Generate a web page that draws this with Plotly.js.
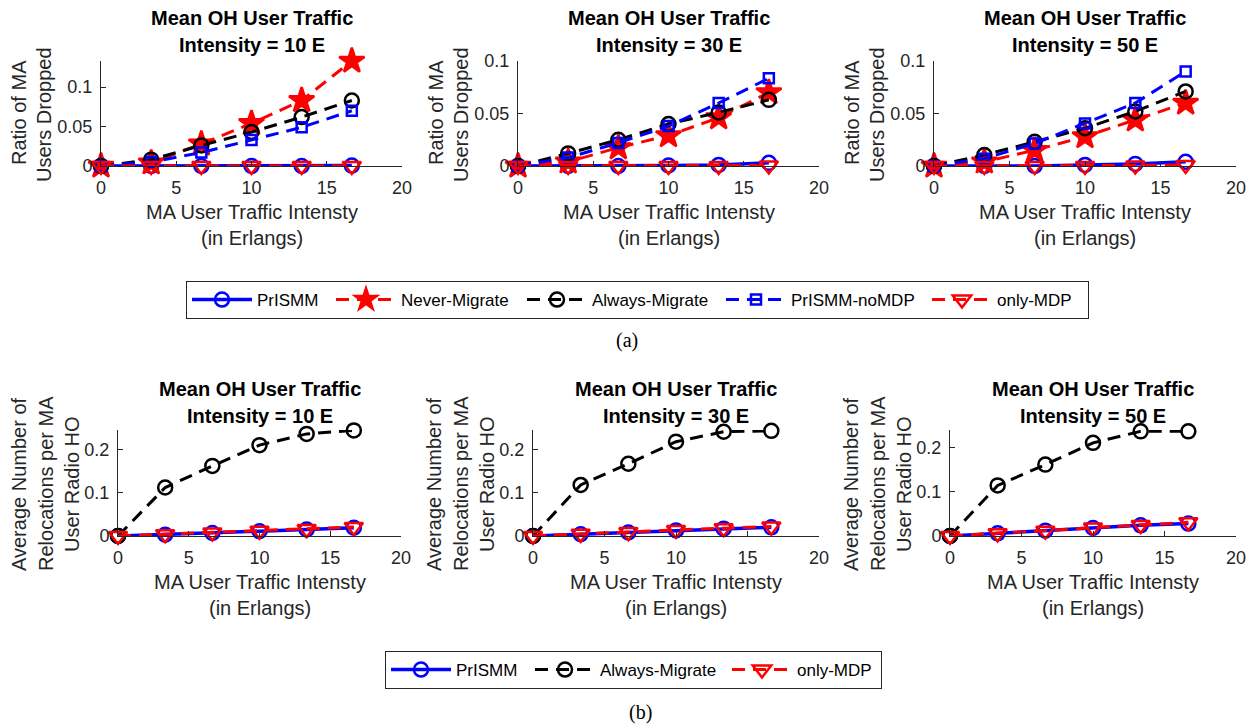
<!DOCTYPE html>
<html><head><meta charset="utf-8">
<script src="https://cdn.plot.ly/plotly-3.0.1.min.js"></script>
<style>html,body{margin:0;padding:0;background:#fff;}</style>
</head><body>
<div id="chart" style="width:1249px;height:728px;"></div>
<script>
// ---------- data ----------
const xVals = [0, 3.333, 6.667, 10, 13.333, 16.667];
const panelIntensity = ['Intensity = 10 E', 'Intensity = 30 E', 'Intensity = 50 E'];
const seriesNamesA = ['PrISMM', 'Never-Migrate', 'Always-Migrate', 'PrISMM-noMDP', 'only-MDP'];
const seriesNamesB = ['PrISMM', 'Always-Migrate', 'only-MDP'];
const xTicks = [0, 5, 10, 15, 20];

// (a) Ratio of MA users dropped
const dropPrISMM_10 = [0, 0, 0, 0, 0, 0.0005];
const dropNever_10  = [0, 0.004, 0.028, 0.054, 0.083, 0.133];
const dropAlways_10 = [0, 0.008, 0.026, 0.043, 0.062, 0.083];
const dropNoMDP_10  = [0, 0.005, 0.017, 0.033, 0.049, 0.070];
const dropOnly_10   = [0, 0, 0, 0, 0, 0];

const dropPrISMM_30 = [0, 0, 0, 0.0005, 0.001, 0.003];
const dropNever_30  = [0, 0.004, 0.0175, 0.029, 0.046, 0.070];
const dropAlways_30 = [0, 0.012, 0.025, 0.040, 0.051, 0.063];
const dropNoMDP_30  = [0, 0.008, 0.022, 0.038, 0.060, 0.0835];
const dropOnly_30   = [0, 0, 0, 0, 0, 0.0005];

const dropPrISMM_50 = [0, 0, 0, 0.001, 0.002, 0.004];
const dropNever_50  = [0, 0.004, 0.015, 0.028, 0.044, 0.060];
const dropAlways_50 = [0, 0.0105, 0.023, 0.036, 0.052, 0.071];
const dropNoMDP_50  = [0, 0.007, 0.0215, 0.0405, 0.060, 0.090];
const dropOnly_50   = [0, 0, 0, 0, 0.0005, 0.001];

// (b) Average number of relocations per MA user radio HO
const relocPrISMM_10 = [0, 0.003, 0.007, 0.011, 0.015, 0.019];
const relocAlways_10 = [0, 0.112, 0.162, 0.210, 0.236, 0.244];
const relocOnly_10   = [0, 0.004, 0.008, 0.012, 0.016, 0.021];

const relocPrISMM_30 = [0, 0.004, 0.008, 0.013, 0.017, 0.020];
const relocAlways_30 = [0, 0.118, 0.167, 0.218, 0.241, 0.243];
const relocOnly_30   = [0, 0.005, 0.009, 0.014, 0.018, 0.022];

const relocPrISMM_50 = [0, 0.006, 0.012, 0.018, 0.024, 0.028];
const relocAlways_50 = [0, 0.114, 0.161, 0.210, 0.236, 0.236];
const relocOnly_50   = [0, 0.006, 0.012, 0.019, 0.025, 0.031];

// ---------- styling ----------
const W = 1249, H = 728;
const px = v => v / W;
const py = v => 1 - v / H;
const DASH = '13px,8px';
const styles = {
  'PrISMM':         {color: '#0000ff', dash: 'solid', symbol: 'circle-open', size: 14},
  'Never-Migrate':  {color: '#ff0000', dash: DASH, symbol: 'star', size: 19},
  'Always-Migrate': {color: '#000000', dash: DASH, symbol: 'circle-open', size: 14},
  'PrISMM-noMDP':   {color: '#0000ff', dash: DASH, symbol: 'square-open', size: 10},
  'only-MDP':       {color: '#ff0000', dash: DASH, symbol: 'triangle-down-open', size: 16}
};
const legWidthA = {'PrISMM': 69, 'Never-Migrate': 116, 'Always-Migrate': 124, 'PrISMM-noMDP': 131, 'only-MDP': 86};
const legWidthB = {'PrISMM': 69, 'Always-Migrate': 122, 'only-MDP': 79};

const panelsA = [
  [dropPrISMM_10, dropNever_10, dropAlways_10, dropNoMDP_10, dropOnly_10],
  [dropPrISMM_30, dropNever_30, dropAlways_30, dropNoMDP_30, dropOnly_30],
  [dropPrISMM_50, dropNever_50, dropAlways_50, dropNoMDP_50, dropOnly_50]
];
const panelsB = [
  [relocPrISMM_10, relocAlways_10, relocOnly_10],
  [relocPrISMM_30, relocAlways_30, relocOnly_30],
  [relocPrISMM_50, relocAlways_50, relocOnly_50]
];

// pixel geometry of the six axes
const topX = [[101, 402], [518, 819], [934, 1236]];
const topY = [61, 166];
const botX = [[118, 401], [533, 819], [950, 1236]];
const botY = [430, 536];
const yRangesA = [0.133, 0.1, 0.1];
const yRangesB = [0.245, 0.245, 0.239];

const traces = [];
function mkTrace(name, y, axIdx, legendId, show, lw) {
  const s = styles[name];
  return {
    type: 'scatter', mode: 'lines+markers', name: name, x: xVals, y: y,
    xaxis: 'x' + (axIdx === 1 ? '' : axIdx), yaxis: 'y' + (axIdx === 1 ? '' : axIdx),
    line: {color: s.color, width: name === 'PrISMM' ? 3.5 : 3, dash: s.dash},
    marker: {symbol: s.symbol, size: s.size, color: s.color, line: {color: s.color, width: 2.5}},
    cliponaxis: false, showlegend: show, legend: legendId, legendwidth: lw
  };
}
panelsA.forEach((ser, p) => {
  ser.forEach((y, k) => {
    const n = seriesNamesA[k];
    traces.push(mkTrace(n, y, p + 1, 'legend', p === 0, legWidthA[n]));
  });
});
panelsB.forEach((ser, p) => {
  ser.forEach((y, k) => {
    const n = seriesNamesB[k];
    traces.push(mkTrace(n, y, p + 4, 'legend2', p === 0, legWidthB[n]));
  });
});

const layout = {
  width: W, height: H, margin: {l: 0, r: 0, t: 0, b: 0},
  paper_bgcolor: '#fff', plot_bgcolor: '#fff',
  font: {family: 'Liberation Sans, Arial, sans-serif', color: '#262626', size: 18},
  annotations: [],
  legend: {orientation: 'h', x: px(186), y: py(281), xanchor: 'left', yanchor: 'top',
           bgcolor: '#fff', bordercolor: '#262626', borderwidth: 1, itemwidth: 60,
           font: {size: 17, color: '#000'}},
  legend2: {orientation: 'h', x: px(385), y: py(651), xanchor: 'left', yanchor: 'top',
           bgcolor: '#fff', bordercolor: '#262626', borderwidth: 1, itemwidth: 60,
           font: {size: 17, color: '#000'}}
};

function axisPair(idx, xr, yr, yMax, dtickY) {
  const sfx = idx === 1 ? '' : idx;
  layout['xaxis' + sfx] = {
    domain: [px(xr[0]), px(xr[1])], range: [0, 20], tickvals: xTicks, anchor: 'y' + sfx,
    showline: true, linecolor: '#262626', linewidth: 1, ticks: 'inside', ticklen: 5,
    tickcolor: '#262626', showgrid: false, zeroline: false, fixedrange: true,
    tickfont: {size: 18, color: '#262626'}, ticklabelstandoff: 5
  };
  layout['yaxis' + sfx] = {
    domain: [py(yr[1]), py(yr[0])], range: [0, yMax], dtick: dtickY, tick0: 0, anchor: 'x' + sfx,
    showline: true, linecolor: '#262626', linewidth: 1, ticks: 'inside', ticklen: 5,
    tickcolor: '#262626', showgrid: false, zeroline: false, fixedrange: true,
    tickfont: {size: 18, color: '#262626'}, ticklabelstandoff: 4
  };
}
for (let p = 0; p < 3; p++) {
  axisPair(p + 1, topX[p], topY, yRangesA[p], 0.05);
  axisPair(p + 4, botX[p], botY, yRangesB[p], 0.1);
}

function ann(text, x, y, opts) {
  layout.annotations.push(Object.assign({
    text: text, x: px(x), y: py(y), xref: 'paper', yref: 'paper', showarrow: false,
    xanchor: 'center', yanchor: 'middle', font: {size: 20, color: '#262626'}
  }, opts || {}));
}
const titleFont = {size: 20, color: '#000', family: 'Liberation Sans, Arial, sans-serif'};
for (let p = 0; p < 3; p++) {
  // top row
  const cxT = (topX[p][0] + topX[p][1]) / 2;
  ann('<b>Mean OH User Traffic</b>', cxT, 18, {font: titleFont});
  ann('<b>' + panelIntensity[p] + '</b>', cxT, 45, {font: titleFont});
  ann('MA User Traffic Intensty', cxT, 212);
  ann('(in Erlangs)', cxT, 238);
  const yl = topX[p][0];
  ann('Ratio of MA', yl - 82, 113, {textangle: -90});
  ann('Users Dropped', yl - 57, 115, {textangle: -90});
  // bottom row
  const cxB = (botX[p][0] + botX[p][1]) / 2;
  ann('<b>Mean OH User Traffic</b>', cxB, 389, {font: titleFont});
  ann('<b>' + panelIntensity[p] + '</b>', cxB, 416, {font: titleFont});
  ann('MA User Traffic Intensty', cxB, 582);
  ann('(in Erlangs)', cxB, 608);
  const yb = botX[p][0];
  ann('Average Number of', yb - 99, 484, {textangle: -90});
  ann('Relocations per MA', yb - 72, 484, {textangle: -90});
  ann('User Radio HO', yb - 46, 484, {textangle: -90});
}
ann('(a)', 627, 340, {font: {family: 'Liberation Serif, Times New Roman, serif', size: 20, color: '#000'}});
ann('(b)', 640, 712, {font: {family: 'Liberation Serif, Times New Roman, serif', size: 20, color: '#000'}});

Plotly.newPlot('chart', traces, layout, {displayModeBar: false, staticPlot: true});
</script>
</body></html>
